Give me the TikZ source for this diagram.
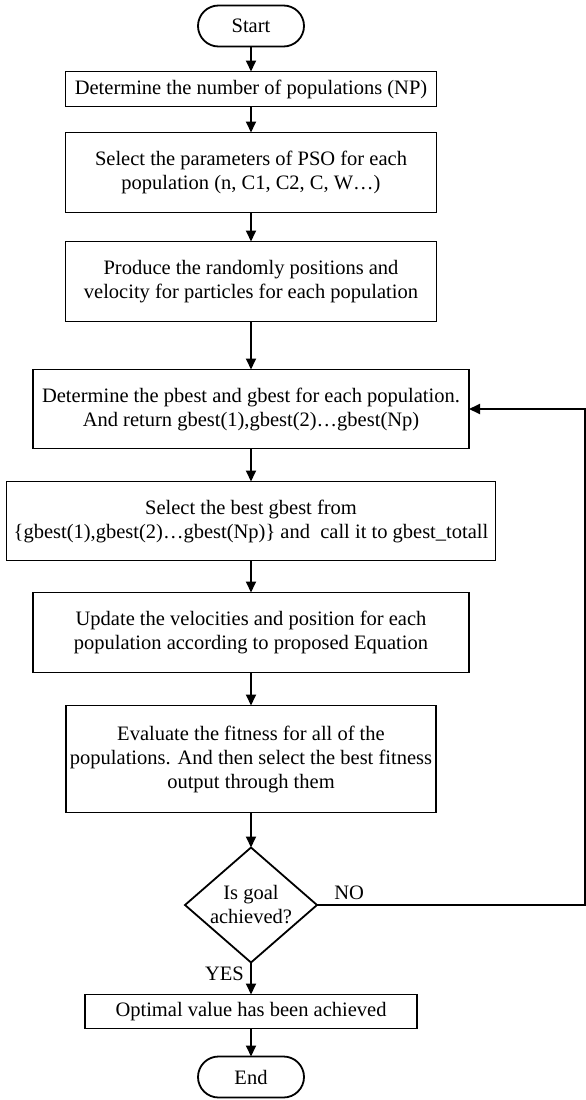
\documentclass[tikz,border=0pt]{standalone}
\usepackage{fontspec}
\setmainfont{Liberation Serif}
\usepackage{tikz}
\usetikzlibrary{positioning,shapes,arrows.meta}

\begin{document}
\begin{tikzpicture}[
  x=1pt, y=1pt,
  font=\fontsize{20.5}{24}\selectfont,
  termnode/.style={rounded rectangle, draw=black, line width=1.8pt, outer sep=0pt, minimum width=106pt, minimum height=41pt, inner sep=0pt},
  procnode/.style={rectangle, draw=black, line width=1.8pt, outer sep=0pt, align=center, inner sep=0pt, minimum width=#1},
  procnode/.default=371pt,
  decnode/.style={diamond, draw=black, line width=1.8pt, outer sep=0pt, align=center, inner sep=0pt, minimum width=132pt, minimum height=115pt, aspect=1.15},
  flow/.style={line width=1.8pt, -{Triangle[length=11pt,width=10pt]}}
]
\useasboundingbox (0,0) rectangle (586,-1100);

%Nodes
\node[termnode] (start) at (251,-26) {Start};
\node[procnode, minimum height=35pt, below=25pt of start] (nump) {Determine the number of populations (NP)};
\node[procnode, minimum height=80pt, below=26pt of nump] (param) {Select the parameters of PSO for each\\population (n, C1, C2, C, W\ldots)};
\node[procnode, minimum height=80pt, below=29pt of param] (init) {Produce the randomly positions and\\velocity for particles for each population};
\node[procnode=436pt, minimum height=79pt, below=48pt of init] (best) {Determine the pbest and gbest for each population.\\And return gbest(1),gbest(2)\ldots gbest(Np)};
\node[procnode=489pt, minimum height=79pt, below=33pt of best] (total) {Select the best gbest from\\\{gbest(1),gbest(2)\ldots gbest(Np)\} and\ \ call it to gbest\_totall};
\node[procnode=436pt, minimum height=80pt, below=32pt of total] (update) {Update the velocities and position for each\\population according to proposed Equation};
\node[procnode=370pt, minimum height=107pt, below=33pt of update] (eval) {Evaluate the fitness for all of the\\populations. And then select the best fitness\\output through them};
\node[decnode, below=35pt of eval] (goal) {Is goal\\achieved?};
\node[procnode=332pt, minimum height=34pt, below=32pt of goal] (optim) {Optimal value has been achieved};
\node[termnode, below=28pt of optim] (end) {End};

\coordinate (ret) at (585,0 |- goal);

%Arrows
\draw[flow] (start) -- (nump);
\draw[flow] (nump) -- (param);
\draw[flow] (param) -- (init);
\draw[flow] (init) -- (best);
\draw[flow] (best) -- (total);
\draw[flow] (total) -- (update);
\draw[flow] (update) -- (eval);
\draw[flow] (eval) -- (goal);
\draw[flow] (goal) -- node[pos=0.35, left=3pt]{YES} (optim);
\draw[flow] (optim) -- (end);
\draw[flow] (goal.east) -- node[pos=0.12, above=1pt]{NO} (ret) |- (best.east);
\end{tikzpicture}
\end{document}
